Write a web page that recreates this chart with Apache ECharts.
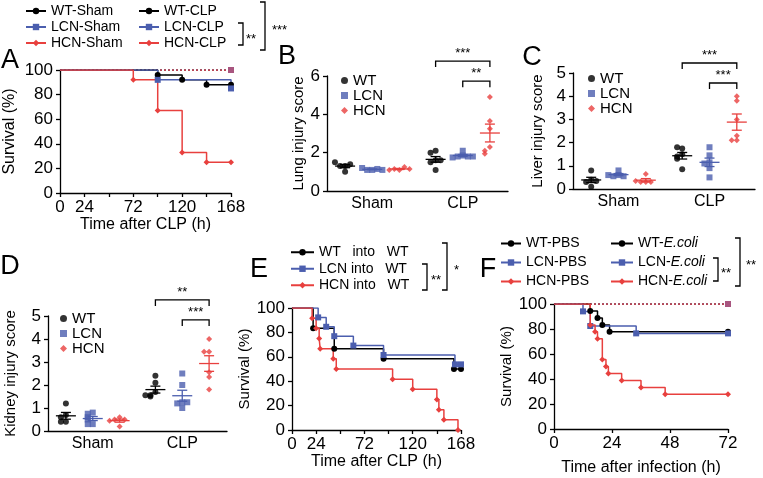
<!DOCTYPE html>
<html>
<head>
<meta charset="utf-8">
<script src="https://cdn.jsdelivr.net/npm/echarts@6/dist/echarts.min.js"></script>
<style>
html, body { margin: 0; padding: 0; background: #fff; }
#fig { width: 763px; height: 478px; }
</style>
</head>
<body>
<div id="fig"></div>
<script>
// colours
var black = '#000000', blue = '#4b5eae', red = '#e8403e', mixed = '#a8557f';
var groupNames = ['WT', 'LCN', 'HCN'];
var groupColors = [black, blue, red];
var groupSymbols = ['circle', 'rect', 'diamond'];
var scoreCats = ['Sham', 'CLP'];

// tick labels
var clpTicks = [0, 24, 72, 120, 168];
var infTicks = [0, 24, 48, 72];

// A  survival after CLP (time h / survival %)
var aShamT = [0, 168], aShamS = [100, 100];
var aWtT = [0, 96, 120, 144, 168], aWtS = [100, 96, 92, 88, 88];
var aLcnT = [0, 96, 168], aLcnS = [100, 92, 85];
var aHcnT = [0, 72, 96, 120, 144, 168], aHcnS = [100, 92, 67, 33, 25, 25];

// B  lung injury score, each group: [Sham, CLP]
var lungWT = [[1.0, 1.3, 1.3, 1.4, 1.5], [2.1, 2.0, 1.6, 1.5, 1.6, 1.1]];
var lungLCN = [[1.1, 1.1, 1.15, 1.2, 1.1], [2.1, 1.85, 1.8, 1.8, 1.75, 1.8]];
var lungHCN = [[1.1, 1.15, 1.25, 1.1, 1.15], [4.9, 3.65, 3.25, 2.3, 2.1, 1.95]];

// C  liver injury score
var liverWT = [[0.8, 0.4, 0.3, 0.35, 0.1], [1.75, 1.8, 1.5, 1.4, 1.3, 0.85]];
var liverLCN = [[0.8, 0.6, 0.55, 0.55, 0.6], [1.8, 1.45, 1.15, 1.1, 0.9, 0.5]];
var liverHCN = [[0.65, 0.3, 0.3, 0.3, 0.35], [4.0, 3.8, 3.0, 2.3, 2.1, 2.1]];

// D  kidney injury score
var kidneyWT = [[1.2, 0.7, 0.6, 0.4, 0.4], [2.4, 2.1, 1.7, 1.55, 1.5, 1.55]];
var kidneyLCN = [[0.8, 0.75, 0.6, 0.5, 0.3, 0.3], [2.5, 2.0, 1.25, 1.2, 1.25, 1.0]];
var kidneyHCN = [[0.6, 0.5, 0.5, 0.45, 0.2], [4.0, 3.45, 3.45, 2.55, 2.35, 1.8]];

// E  bone marrow transfer, survival after CLP
var eWtT = [0, 21, 42, 91, 161, 168], eWtS = [100, 83.3, 66.7, 58.3, 50, 50];
var eLcnT = [0, 26, 34, 42, 61, 91, 162, 168], eLcnS = [100, 92.3, 84.6, 76.9, 69.2, 61.5, 53.8, 53.8];
var eHcnT = [0, 20, 24, 27, 28, 41, 44, 100, 120, 144, 146, 151, 165];
var eHcnS = [100, 91.7, 83.3, 75, 66.7, 58.3, 50, 41.7, 33.3, 25, 16.7, 8.3, 0];

// F  survival after E.coli infection
var fPbsT = [0, 72], fPbsS = [100, 100];
var fWtT = [0, 15, 18, 20, 23, 72], fWtS = [100, 94.4, 88.9, 83.3, 77.8, 77.8];
var fLcnT = [0, 12, 15, 34, 72], fLcnS = [100, 94.1, 82.4, 76.5, 76.5];
var fHcnT = [0, 15, 17, 18, 20, 21.5, 22.5, 28, 36, 46, 72];
var fHcnS = [100, 83.3, 77.8, 72.2, 55.6, 50, 44.4, 38.9, 33.3, 27.8, 27.8];

var font = 'Liberation Sans, Arial, sans-serif';

var grids = [
    { left: 60, top: 70, width: 171, height: 123 },   // A
    { left: 327, top: 76, width: 181, height: 115 },  // B
    { left: 573, top: 73, width: 182, height: 116 },  // C
    { left: 48, top: 316, width: 179, height: 115 },  // D
    { left: 292, top: 308, width: 169, height: 122 }, // E
    { left: 554, top: 304, width: 174, height: 125 }  // F
];

var xAxes = [], yAxes = [], series = [], legends = [];

var axisLine = { show: true, lineStyle: { color: '#000', width: 1.3 } };
var axisTick = { show: true, length: 4, lineStyle: { color: '#000', width: 1.3 } };

function survivalAxes(gi, xmax, ticks, xName, xGap, yGap, yFont) {
    var xi = xAxes.length, yi = yAxes.length;
    xAxes.push({
        type: 'value', gridIndex: gi, min: 0, max: xmax, interval: 24,
        name: xName, nameLocation: 'middle', nameGap: xGap,
        nameTextStyle: { fontSize: 16, color: '#000', fontFamily: font },
        axisLine: axisLine, axisTick: axisTick,
        axisLabel: {
            color: '#000', fontSize: 17, margin: 6, fontFamily: font,
            formatter: function (v) { return ticks.indexOf(v) >= 0 ? String(v) : ''; }
        },
        splitLine: { show: false }
    });
    yAxes.push({
        type: 'value', gridIndex: gi, min: 0, max: 100, interval: 20,
        name: 'Survival (%)', nameLocation: 'middle', nameGap: yGap,
        nameTextStyle: { fontSize: yFont, color: '#000', fontFamily: font },
        axisLine: axisLine, axisTick: axisTick,
        axisLabel: { color: '#000', fontSize: 17, margin: 7, fontFamily: font },
        splitLine: { show: false }
    });
    return [xi, yi];
}

// Kaplan-Meier style step line; dotted lines only keep an optional end marker
function km(name, T, S, ax, color, symbol, dotted, endColor) {
    var data = T.map(function (t, i) {
        if (i === 0) return { value: [t, S[i]], symbol: 'none' };
        if (dotted) {
            if (endColor && i === T.length - 1) return { value: [t, S[i]], itemStyle: { color: endColor } };
            return { value: [t, S[i]], symbol: 'none' };
        }
        return [t, S[i]];
    });
    series.push({
        name: name, type: 'line', step: 'end',
        xAxisIndex: ax[0], yAxisIndex: ax[1],
        data: data, symbol: symbol, symbolSize: 6,
        color: color,
        lineStyle: { width: dotted ? 1.4 : 1.5, type: dotted ? [2, 2] : 'solid', color: color },
        itemStyle: { color: color },
        z: dotted ? 2 : 3
    });
}

function mean(a) { return a.reduce(function (s, v) { return s + v; }, 0) / a.length; }
function sem(a) {
    var m = mean(a);
    var ss = a.reduce(function (s, v) { return s + (v - m) * (v - m); }, 0);
    return Math.sqrt(ss / (a.length - 1)) / Math.sqrt(a.length);
}
// simple deterministic swarm offset: points with close values get pushed sideways
function swarm(vals, tol) {
    var placed = [];
    return vals.map(function (v) {
        var near = placed.filter(function (p) { return Math.abs(p - v) < tol; }).length;
        placed.push(v);
        if (near === 0) return 0;
        return (near % 2 ? -1 : 1) * Math.ceil(near / 2);
    });
}
function groupX(c, g) { return 0.25 + 0.5 * c + (g - 1) * 0.15; }

function meanSem(color) {
    return function (params, api) {
        var c = api.coord([api.value(0), api.value(1)]);
        var hi = api.coord([api.value(0), api.value(1) + api.value(2)]);
        var lo = api.coord([api.value(0), api.value(1) - api.value(2)]);
        var st = { stroke: color, lineWidth: 1.3 };
        return {
            type: 'group', children: [
                { type: 'line', shape: { x1: c[0] - 10, y1: c[1], x2: c[0] + 10, y2: c[1] }, style: st },
                { type: 'line', shape: { x1: c[0], y1: lo[1], x2: c[0], y2: hi[1] }, style: st },
                { type: 'line', shape: { x1: c[0] - 5, y1: lo[1], x2: c[0] + 5, y2: lo[1] }, style: st },
                { type: 'line', shape: { x1: c[0] - 5, y1: hi[1], x2: c[0] + 5, y2: hi[1] }, style: st }
            ]
        };
    };
}

function scorePanel(gi, yName, yGap, ymax, step, sets, brackets, legendPos) {
    xAxes.push({
        type: 'category', gridIndex: gi, data: scoreCats,
        axisLine: axisLine, axisTick: { show: false },
        axisLabel: { color: '#000', fontSize: 16, margin: 5, fontFamily: font },
        splitLine: { show: false }
    });
    var vi = xAxes.length;
    xAxes.push({ type: 'value', gridIndex: gi, min: 0, max: 1, show: false });
    var yi = yAxes.length;
    yAxes.push({
        type: 'value', gridIndex: gi, min: 0, max: ymax, interval: step,
        name: yName, nameLocation: 'middle', nameGap: yGap,
        nameTextStyle: { fontSize: 15, color: '#000', fontFamily: font },
        axisLine: axisLine, axisTick: axisTick,
        axisLabel: { color: '#000', fontSize: 17, margin: 7, fontFamily: font },
        splitLine: { show: false }
    });
    sets.forEach(function (set, g) {
        var pts = [], bars = [];
        set.forEach(function (vals, c) {
            var gx = groupX(c, g);
            var offs = swarm(vals, ymax * 0.035);
            vals.forEach(function (v, i) { pts.push([gx + offs[i] * 0.028, v]); });
            bars.push([gx, mean(vals), sem(vals)]);
        });
        series.push({
            name: groupNames[g], type: 'scatter', xAxisIndex: vi, yAxisIndex: yi,
            data: pts, symbol: groupSymbols[g], symbolSize: 6,
            itemStyle: { color: groupColors[g] }, z: 2
        });
        series.push({
            type: 'custom', xAxisIndex: vi, yAxisIndex: yi, data: bars,
            renderItem: meanSem(groupColors[g]), clip: false, silent: true, z: 3
        });
    });
    var labels = brackets.map(function (b) { return b[3]; });
    series.push({
        type: 'custom', xAxisIndex: vi, yAxisIndex: yi, clip: false, silent: true, z: 4,
        data: brackets.map(function (b) { return [groupX(1, b[0]), groupX(1, b[1]), b[2]]; }),
        renderItem: function (params, api) {
            var p1 = api.coord([api.value(0), api.value(2)]);
            var p2 = api.coord([api.value(1), api.value(2)]);
            return {
                type: 'group', children: [
                    { type: 'polyline', shape: { points: [[p1[0], p1[1] + 6], [p1[0], p1[1]], [p2[0], p2[1]], [p2[0], p2[1] + 6]] },
                      style: { stroke: '#000', lineWidth: 1.3, fill: null } },
                    { type: 'text', x: (p1[0] + p2[0]) / 2, y: p1[1] - 1,
                      style: { text: labels[params.dataIndex], fontSize: 13, fontFamily: font, fill: '#000',
                               textAlign: 'center', textVerticalAlign: 'bottom', align: 'center', verticalAlign: 'bottom' } }
                ]
            };
        }
    });
    legends.push({
        orient: 'vertical', left: legendPos[0], top: legendPos[1], padding: 0,
        itemWidth: 7, itemHeight: 7, itemGap: 0, selectedMode: false,
        data: groupNames,
        textStyle: { fontSize: 15, color: '#000', lineHeight: legendPos[2], fontFamily: font }
    });
}

// ---------- A ----------
var axA = survivalAxes(0, 168, clpTicks, 'Time after CLP (h)', 20, 42, 16);
km('WT-Sham', aShamT, aShamS, axA, black, 'circle', true);
km('LCN-Sham', aShamT, aShamS, axA, blue, 'rect', true, mixed);
km('HCN-Sham', aShamT, aShamS, axA, red, 'diamond', true);
km('WT-CLP', aWtT, aWtS, axA, black, 'circle');
km('LCN-CLP', aLcnT, aLcnS, axA, blue, 'rect');
km('HCN-CLP', aHcnT, aHcnS, axA, red, 'diamond');

// ---------- B, C, D ----------
scorePanel(1, 'Lung injury score', 17, 6, 2, [lungWT, lungLCN, lungHCN],
    [[0, 2, 6.78, '***'], [1, 2, 5.73, '**']], [341, 73, 14.5]);
scorePanel(2, 'Liver injury score', 28, 5, 1, [liverWT, liverLCN, liverHCN],
    [[0, 2, 5.43, '***'], [1, 2, 4.57, '***']], [588, 71, 14]);
scorePanel(3, 'Kidney injury score', 30, 5, 1, [kidneyWT, kidneyLCN, kidneyHCN],
    [[0, 2, 5.7, '**'], [1, 2, 4.83, '***']], [60, 311, 11.5]);

// ---------- E ----------
var axE = survivalAxes(4, 168, clpTicks, 'Time after CLP (h)', 20, 39, 15);
km('WT   into   WT', eWtT, eWtS, axE, black, 'circle');
km('LCN into   WT', eLcnT, eLcnS, axE, blue, 'rect');
km('HCN into   WT', eHcnT, eHcnS, axE, red, 'diamond');

// ---------- F ----------
var axF = survivalAxes(5, 72, infTicks, 'Time after infection (h)', 31, 36, 15);
km('WT-PBS', fPbsT, fPbsS, axF, black, 'circle', true);
km('LCN-PBS', fPbsT, fPbsS, axF, blue, 'rect', true, mixed);
km('HCN-PBS', fPbsT, fPbsS, axF, red, 'diamond', true);
km('WT-E.coli', fWtT, fWtS, axF, black, 'circle');
km('LCN-E.coli', fLcnT, fLcnS, axF, blue, 'rect');
km('HCN-E.coli', fHcnT, fHcnS, axF, red, 'diamond');

// line legends
function lineLegend(names, left, top, w, pitch) {
    legends.push({
        orient: 'vertical', left: left, top: top, padding: 0,
        itemWidth: w, itemHeight: 8, itemGap: 0, selectedMode: false,
        data: names,
        lineStyle: { type: 'solid', width: 2 },
        formatter: function (n) {
            var p = n.split('E.coli');
            return p.length > 1 ? '{n|' + p[0] + '}{i|E.coli}' : n;
        },
        textStyle: {
            fontSize: 14, color: '#000', lineHeight: pitch, fontFamily: font,
            rich: { n: { fontSize: 14, fontFamily: font }, i: { fontSize: 14, fontStyle: 'italic', fontFamily: font } }
        }
    });
}
lineLegend(['WT-Sham', 'LCN-Sham', 'HCN-Sham'], 25, 3, 20, 16);
lineLegend(['WT-CLP', 'LCN-CLP', 'HCN-CLP'], 138, 3, 20, 16);
lineLegend(['WT   into   WT', 'LCN into   WT', 'HCN into   WT'], 290, 244, 23, 16.5);
lineLegend(['WT-PBS', 'LCN-PBS', 'HCN-PBS'], 500, 234, 20, 19);
lineLegend(['WT-E.coli', 'LCN-E.coli', 'HCN-E.coli'], 610, 234, 22, 19);

// panel letters, legend brackets
function letter(t, x, y) {
    return { type: 'text', x: x, y: y, style: { text: t, fontSize: 27, fontFamily: font, fill: '#000',
        textAlign: 'center', textVerticalAlign: 'middle', align: 'center', verticalAlign: 'middle' } };
}
function bracket(x, y1, y2) {
    return { type: 'polyline', shape: { points: [[x - 5, y1], [x, y1], [x, y2], [x - 5, y2]] },
        style: { stroke: '#000', lineWidth: 1.3, fill: null } };
}
function stars(t, x, y) {
    return { type: 'text', x: x, y: y, style: { text: t, fontSize: 13, fontFamily: font, fill: '#000',
        textAlign: 'left', textVerticalAlign: 'middle', align: 'left', verticalAlign: 'middle' } };
}

var graphics = [
    letter('A', 10, 61), letter('B', 287, 57), letter('C', 532, 58),
    letter('D', 10, 267), letter('E', 259, 270), letter('F', 488, 270),
    bracket(243, 23, 45), stars('**', 246, 39),
    bracket(265, 2, 50), stars('***', 272, 30),
    bracket(427, 264, 290), stars('**', 431, 280),
    bracket(447, 243, 290), stars('*', 454, 270),
    bracket(718, 258, 281), stars('**', 721, 273),
    bracket(740, 238, 286), stars('**', 746, 265)
];

var fig = echarts.init(document.getElementById('fig'));
fig.setOption({
    animation: false,
    backgroundColor: '#fff',
    textStyle: { fontFamily: font, color: '#000' },
    grid: grids,
    xAxis: xAxes,
    yAxis: yAxes,
    legend: legends,
    series: series,
    graphic: graphics
});
</script>
</body>
</html>
